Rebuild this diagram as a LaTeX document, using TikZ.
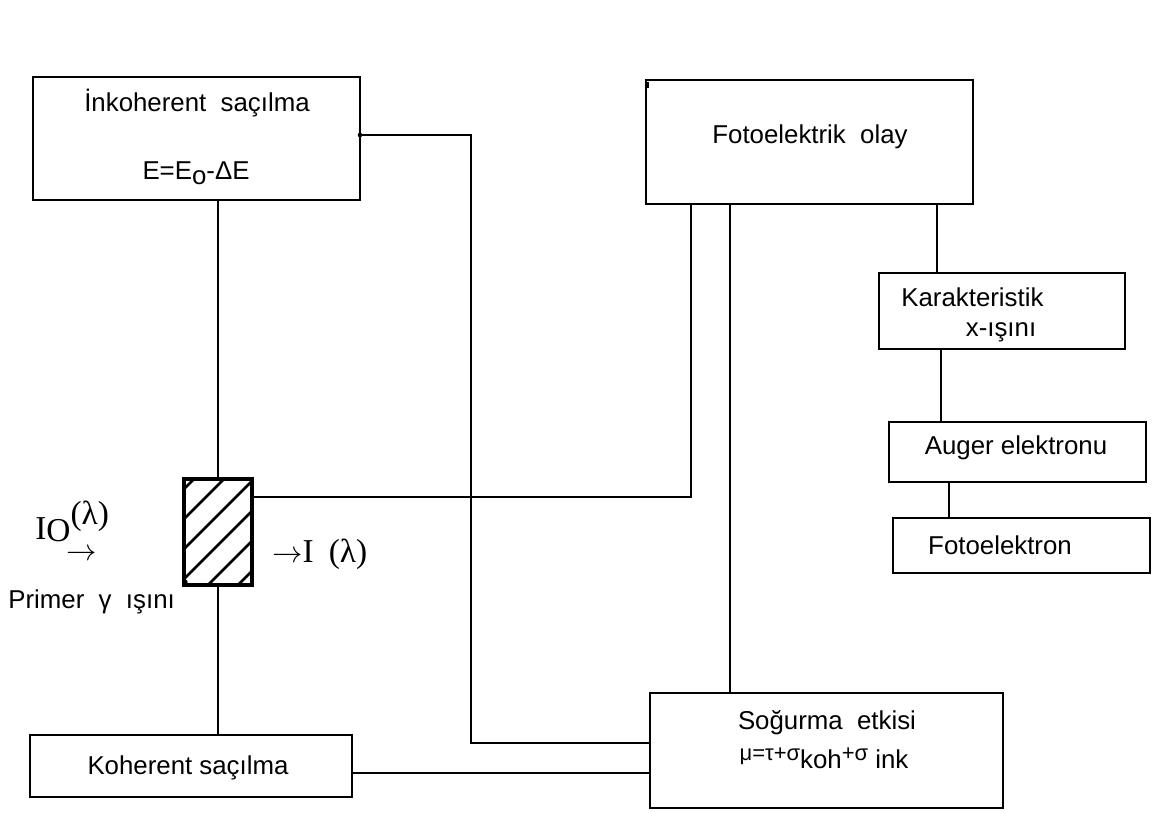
\documentclass[tikz,border=0pt]{standalone}
\usepackage{fontspec}
\setmainfont{Liberation Sans}
\newfontfamily\serifx{Liberation Serif}
\begin{document}
\begin{tikzpicture}[x=0.02cm,y=-0.02cm,
  box/.style={draw, line width=1.6pt, inner sep=0pt},
  conn/.style={line width=1.4pt},
  txt/.style={inner sep=0pt, font=\fontsize{14.7}{17}\selectfont},
  sertxt/.style={inner sep=0pt, font=\fontsize{19}{22}\selectfont\serifx},
  ]
\useasboundingbox (0,0) rectangle (1159,812);
\fill[white] (0,0) rectangle (1159,812);

% boxes
\node[box, minimum width=6.54cm, minimum height=2.46cm] (ink) at (196.5,138.5) {};
\node[box, minimum width=6.54cm, minimum height=2.48cm] (foto) at (809.5,142) {};
\node[box, minimum width=4.92cm, minimum height=1.52cm] (kar) at (1002,311) {};
\node[box, minimum width=5.14cm, minimum height=1.20cm] (aug) at (1017.5,452) {};
\node[box, minimum width=5.14cm, minimum height=1.10cm] (fel) at (1021.5,545.5) {};
\node[box, minimum width=1.32cm, minimum height=2.08cm] (hatch) at (218,532) {};
\node[box, minimum width=6.44cm, minimum height=1.24cm] (koh) at (191,766) {};
\node[box, minimum width=7.06cm, minimum height=2.30cm] (sog) at (826.5,750.5) {};

% hatching
\begin{scope}
  \clip (hatch.south west) rectangle (hatch.north east);
  \foreach \c in {488,518,548,578,608,638}
    \draw[line width=1.5pt] (185,\c) -- ++(200,-200);
\end{scope}
\draw[line width=1.6pt] (hatch.south west) rectangle (hatch.north east);

% texts
\node[txt] (inkt1) at (197,103) {İnkoherent\ \ saçılma};
\node[txt] (inkt2) at (196,173) {E=E\raisebox{-0.2em}{o}-ΔE};
\node[txt] (fotot) at (810,137) {Fotoelektrik\ \ olay};
\node[txt, anchor=west] (kart1) at (901,297) {Karakteristik};
\node[txt] (kart2) at (1001,332) {x-ışını};
\node[txt] (augt) at (1016,448) {Auger elektronu};
\node[txt] (felt) at (1000,545) {Fotoelektron};
\node[txt] (koht) at (188,768) {Koherent saçılma};
\node[txt] (sogt1) at (827,723) {Soğurma\ \ etkisi};
\node[txt] (sogt2) at (824,758) {\raisebox{0.3em}{\fontsize{12.5}{14}\selectfont μ=τ+σ}koh\raisebox{0.3em}{\fontsize{12.5}{14}\selectfont +σ} ink};
\node[txt, anchor=west] (prim) at (8,602) {Primer\ \ γ\ \ ışını};
\node[sertxt, anchor=base west] (io) at (35,539) {I\raisebox{-0.08em}{O}\raisebox{0.42em}{(λ)}};
\node[sertxt] (ioarr) at (82,555) {$\rightarrow$};
\node[sertxt, anchor=base west] (il) at (272,562) {$\rightarrow$I\hspace{0.45em}(λ)};

% junction dots
\fill (360,135) circle (1.3pt);
\fill (185,582) circle (1.5pt);
\fill (645,82) rectangle (649,88);

% connectors
\coordinate (j1) at (471,135);
\coordinate (kA) at (471,743);
\coordinate (kB) at (0,773);
\coordinate (fA) at (691,497);
\coordinate (fB) at (730,0);
\coordinate (fC) at (937,0);
\coordinate (fD) at (941,0);
\coordinate (fE) at (949,0);
\draw[conn] (hatch.north |- ink.south) -- (hatch.north);
\draw[conn] (ink.east |- j1) -- (j1) -- (kA) -- (sog.west |- kA);
\draw[conn] (hatch.east |- fA) -- (fA) -- (fA |- foto.south);
\draw[conn] (fB |- foto.south) -- (fB |- sog.north);
\draw[conn] (fC |- foto.south) -- (fC |- kar.north);
\draw[conn] (fD |- kar.south) -- (fD |- aug.north);
\draw[conn] (fE |- aug.south) -- (fE |- fel.north);
\draw[conn] (hatch.south) -- (hatch.south |- koh.north);
\draw[conn] (koh.east |- kB) -- (sog.west |- kB);
\end{tikzpicture}
\end{document}
